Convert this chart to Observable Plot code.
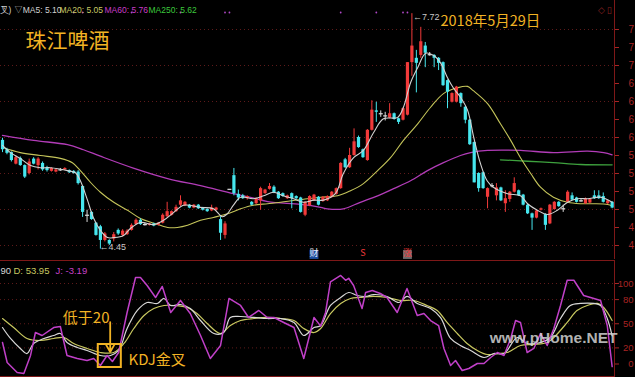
<!DOCTYPE html>
<html><head><meta charset="utf-8">
<script src="https://cdn.jsdelivr.net/npm/d3@7"></script>
<script src="https://cdn.jsdelivr.net/npm/@observablehq/plot@0.6"></script>
<style>
html,body{margin:0;padding:0;background:#000;width:635px;height:377px;overflow:hidden;}
#chart svg{display:block;}
</style></head><body><div id="chart"></div>
<script>
// ---- candle data (index 0..137) ----
const opens  = [5.96,5.83,5.79,5.63,5.71,5.61,5.50,5.70,5.61,5.64,5.58,5.53,5.52,5.55,5.55,5.54,5.53,5.52,5.32,4.92,4.96,4.81,4.76,4.57,4.57,4.59,4.71,4.64,4.65,4.71,4.79,4.85,4.79,4.78,4.80,4.78,4.81,4.90,4.92,4.97,5.06,5.05,5.06,5.02,5.06,5.02,5.00,4.98,4.99,4.86,4.64,5.28,5.47,5.21,5.19,5.15,5.10,5.08,5.12,5.22,5.28,5.31,5.24,5.22,5.15,5.22,5.18,5.16,4.92,5.05,5.12,5.17,5.11,5.12,5.17,5.21,5.29,5.69,5.58,5.75,6.00,5.83,5.68,6.10,6.37,6.33,6.30,6.27,6.33,6.26,6.24,6.31,7.04,7.10,7.14,7.27,7.15,7.14,7.10,7.04,6.79,6.49,6.49,6.61,6.42,6.24,5.93,5.50,5.51,5.17,5.33,5.19,5.30,5.08,5.14,5.24,5.26,5.20,5.06,4.94,4.88,4.99,4.93,4.80,5.00,5.10,5.01,5.10,5.19,5.16,5.12,5.08,5.09,5.19,5.19,5.18,5.08,5.10];
const highs  = [5.99,5.85,5.80,5.74,5.73,5.62,5.70,5.72,5.72,5.66,5.60,5.58,5.56,5.57,5.58,5.55,5.54,5.54,5.33,4.99,4.97,4.82,4.78,4.68,4.58,4.68,4.73,4.72,4.72,4.80,4.87,4.87,4.81,4.81,4.81,4.82,4.94,5.10,4.98,5.06,5.19,5.11,5.07,5.07,5.07,5.03,5.01,5.06,5.03,4.90,4.83,5.28,5.57,5.27,5.21,5.19,5.11,5.16,5.31,5.28,5.36,5.33,5.25,5.23,5.20,5.23,5.19,5.17,5.11,5.19,5.21,5.18,5.18,5.19,5.25,5.30,5.65,5.71,5.85,6.12,6.02,5.84,6.11,6.51,6.49,6.37,6.35,6.47,6.34,6.27,6.41,7.04,7.72,7.21,7.53,7.32,7.18,7.15,7.11,7.05,6.80,6.62,6.71,6.62,6.43,6.25,5.94,5.51,5.52,5.30,5.36,5.36,5.31,5.26,5.25,5.44,5.27,5.21,5.07,4.95,4.99,5.02,4.94,5.07,5.11,5.11,5.06,5.26,5.23,5.17,5.14,5.16,5.15,5.26,5.26,5.23,5.13,5.11];
const lows   = [5.79,5.76,5.66,5.62,5.60,5.43,5.48,5.62,5.55,5.53,5.52,5.52,5.51,5.53,5.54,5.50,5.49,5.34,4.89,4.82,4.85,4.63,4.45,4.55,4.50,4.55,4.64,4.62,4.64,4.70,4.78,4.78,4.77,4.77,4.76,4.77,4.80,4.88,4.91,4.96,5.04,5.04,5.01,5.01,5.00,4.98,4.96,4.97,4.98,4.57,4.59,5.28,5.19,5.12,5.14,5.13,5.05,5.07,4.99,5.21,5.27,5.22,5.14,5.17,5.14,5.01,5.14,4.95,4.90,5.04,5.11,5.05,5.10,5.11,5.16,5.20,5.28,5.57,5.57,5.74,5.85,5.71,5.67,6.09,6.21,6.28,6.23,6.26,6.24,6.18,6.23,6.30,6.85,6.62,7.10,6.97,7.13,6.97,6.93,6.71,6.40,6.48,6.48,6.42,6.19,5.89,5.37,5.24,5.28,5.01,5.30,5.12,5.11,4.96,5.10,5.23,5.18,5.05,4.93,4.71,4.87,4.98,4.71,4.79,4.99,5.03,4.96,5.09,5.12,5.09,5.10,5.07,5.08,5.14,5.14,5.09,5.07,5.01];
const closes = [5.83,5.78,5.68,5.72,5.61,5.45,5.66,5.63,5.70,5.55,5.54,5.57,5.55,5.55,5.57,5.51,5.50,5.36,4.96,4.92,4.86,4.64,4.57,4.66,4.52,4.65,4.66,4.70,4.70,4.78,4.85,4.79,4.79,4.80,4.77,4.81,4.92,4.97,4.97,5.03,5.12,5.10,5.02,5.06,5.01,4.99,4.97,5.02,5.02,4.67,4.80,5.28,5.22,5.16,5.15,5.18,5.06,5.15,5.29,5.27,5.32,5.23,5.15,5.18,5.19,5.15,5.15,4.96,5.10,5.18,5.20,5.06,5.17,5.18,5.24,5.29,5.64,5.58,5.75,5.94,5.86,5.72,6.10,6.38,6.35,6.33,6.30,6.33,6.25,6.21,6.40,7.04,7.27,7.03,7.33,7.17,7.15,7.10,7.03,6.72,6.63,6.61,6.70,6.47,6.24,5.90,5.37,5.29,5.29,5.29,5.33,5.30,5.12,5.15,5.24,5.36,5.19,5.06,4.94,4.88,4.98,5.01,4.78,5.06,5.10,5.04,5.01,5.24,5.13,5.10,5.12,5.15,5.14,5.15,5.15,5.10,5.12,5.02];

// ---- moving averages [candle index, price] ----
const ma5 = [[0,5.89],[1.8,5.79],[4,5.71],[6.3,5.61],[8.5,5.58],[10.8,5.58],[14.6,5.54],[16.4,5.51],[17.5,5.40],[19.1,5.13],[20.4,4.89],[22,4.71],[23.6,4.61],[25,4.61],[27.2,4.64],[28.8,4.74],[31,4.82],[34,4.79],[36.2,4.85],[38.5,4.96],[40.7,5.06],[44.5,5.03],[47.4,5.01],[49.4,4.90],[50.5,4.94],[51.9,5.06],[53.5,5.17],[56.4,5.15],[58.7,5.19],[60.9,5.24],[63.1,5.19],[65.4,5.15],[67.6,5.10],[70,5.13],[72.1,5.13],[74.8,5.22],[76.6,5.50],[78.9,5.72],[81.1,5.82],[83.4,6.07],[85.6,6.26],[88.8,6.28],[90.1,6.42],[91.7,6.76],[93.3,6.97],[95.1,7.17],[96.9,7.14],[98.4,7.04],[100,6.83],[101.4,6.68],[102.9,6.56],[104.5,6.38],[105.9,6.00],[107.4,5.64],[108.9,5.40],[110.3,5.31],[113.5,5.22],[116.4,5.19],[118,5.08],[120.2,4.99],[122.5,4.93],[124.7,4.99],[127,5.10],[129.2,5.15],[131.5,5.15],[134.4,5.17],[137,5.10]];
const ma20 = [[0,5.86],[4,5.79],[8.5,5.75],[13,5.71],[15.7,5.65],[17.5,5.54],[19.8,5.375],[22,5.24],[25,5.10],[28.1,4.99],[31,4.875],[34,4.81],[37.1,4.75],[39.3,4.75],[41.6,4.78],[44.5,4.85],[47.4,4.89],[50.6,4.94],[53.5,5.01],[56.4,5.06],[59.6,5.08],[62.5,5.10],[65.4,5.125],[68.5,5.15],[71.5,5.17],[75.3,5.19],[78.2,5.26],[81.1,5.36],[84.3,5.54],[87.2,5.72],[90.1,5.96],[93.3,6.19],[96.2,6.42],[99.1,6.61],[102.2,6.69],[104.5,6.71],[105.8,6.65],[109,6.47],[111.9,6.19],[114.2,5.96],[116.4,5.72],[118.7,5.50],[120.9,5.31],[123.8,5.17],[127,5.10],[129.9,5.08],[132.8,5.08],[136,5.07],[137,5.05]];
const ma60 = [[0,6.03],[7,5.96],[14.6,5.90],[18.2,5.83],[22,5.74],[29.4,5.575],[37.1,5.43],[44.5,5.33],[51.9,5.22],[55.7,5.17],[59.6,5.11],[67,5.07],[71.5,5.03],[73,5.01],[76.6,5.01],[80.4,5.10],[84.3,5.19],[87.9,5.29],[91.7,5.40],[95.5,5.54],[99.1,5.65],[102.9,5.75],[105.2,5.79],[109,5.82],[116.4,5.82],[123.8,5.79],[131.5,5.81],[135.1,5.79],[137,5.76]];
const ma250 = [[111.9,5.69],[118,5.67],[123.8,5.65],[129.9,5.625],[137,5.62]];

// ---- KDJ [candle index, value] ----
const kLine = [[0,45.3],[1.8,31.7],[4,19.3],[5.5,13],[7,25.5],[9.3,31.7],[11.5,35.4],[13,37.9],[14.5,26.7],[16.8,20.5],[19,16.8],[22,10.6],[24.3,10.6],[26.1,16.8],[28,44.1],[30.3,66.5],[32.5,76.4],[34.8,75.2],[36.3,81.4],[37.8,72.7],[40,73.9],[42.2,68.9],[44.5,54],[47.5,37.9],[49.7,39.1],[51.2,57.8],[53.5,59],[56.5,57.8],[59.5,56.5],[62.5,56.5],[65.5,51.6],[67.7,35.4],[70,45.3],[71.5,47.8],[73.7,72.7],[76,82.6],[77.8,88.8],[79.7,85.1],[81.6,83.9],[83.4,86.3],[86.4,83.9],[89.1,76.4],[90.9,83.9],[93.2,75.2],[96.2,68.9],[98.4,57.8],[100.7,31.7],[102.9,23],[105.2,16.8],[108.2,8.1],[110.4,13],[112.7,13],[115.7,32.9],[117.9,25.5],[120.9,26.7],[123.1,32.9],[125.4,56.5],[127.6,72.7],[129.9,75.2],[132.9,75.2],[134.4,72.7],[135.9,56.5],[137,34.9]];
const dLine = [[0,56.5],[2.5,45.3],[5.5,31.7],[8.5,29.2],[11.5,31.7],[13.8,32.9],[16,25.5],[19,19.3],[22,14.3],[25,14.3],[27.3,25.5],[29.5,44.1],[31.8,60.2],[34,68.9],[36.3,72.7],[38.5,72.7],[41.5,70.2],[43.7,62.7],[46,50.3],[49,37.9],[51.2,47.8],[53.5,54],[56.5,56.5],[59.5,57.8],[62.5,56.5],[65.5,54],[67.7,44.1],[70,39.1],[71.5,44.1],[73.7,62.7],[76,75.2],[78.2,81.4],[80.4,82.6],[83.4,83.9],[86.4,82.6],[89.4,78.9],[92.4,78.9],[95.4,72.7],[97.7,66.5],[99.9,51.6],[102.2,37.9],[104.4,25.5],[106.7,16.8],[108.9,11.8],[111.2,13],[113.4,14.3],[116.4,23],[119.4,24.2],[122.4,26.7],[123.9,32.9],[126.9,51.6],[129.1,66.5],[131.4,72.7],[133.7,75.2],[135.1,70.2],[137,53.95]];
const jLine = [[0,26.7],[1.05,1.9],[3.3,-10.6],[4.8,-11.8],[6.3,10.6],[7.4,39.1],[8.9,35.4],[11.5,45.3],[13,46.6],[14.5,10.6],[16.8,6.8],[19,4.3],[20.5,6.8],[22,-1.9],[23.5,10.6],[24.7,3.1],[26.1,14.3],[28,64],[29.9,107.5],[31,107.5],[32.5,97.5],[34.4,82.6],[35.9,96.3],[37.8,64],[40,78.9],[42.2,62.7],[44.5,35.4],[46.7,6.8],[49,23],[50.9,81.4],[53.5,72.7],[55.3,57.8],[57.6,66.5],[59.5,57.8],[61,57.8],[63.2,51.6],[65.5,45.3],[67.7,6.8],[70,57.8],[71.5,47],[72.6,64],[73.7,102],[76,110],[77.1,104],[77.8,106.5],[78.9,97.5],[80.8,68.9],[81.6,88.8],[83.1,91.3],[84.9,87.6],[86.4,82.6],[88.7,64],[90.9,93.8],[93.2,60.2],[94.7,62.7],[96.2,54],[98,47.8],[99.2,19.3],[100.7,-1.9],[101.8,4.3],[103.3,-8.1],[104.8,-5.6],[106.7,0.6],[108.2,0.6],[109.7,8.1],[111.2,14.3],[112.7,10.6],[114.2,31.7],[115.3,54],[116.4,51.6],[117.9,14.3],[119.4,19.3],[120.9,37.9],[122.4,23],[123.9,44.1],[125.4,72.7],[126.9,104],[128.4,104],[130.6,85.1],[132.9,81.4],[134.4,78.9],[135.9,47.8],[137,-3.19]];

// ---- ticks, labels, markers ----
const priceTicks = [4.5,4.75,5,5.25,5.5,5.75,6,6.25,6.5,6.75,7,7.25,7.5];
const priceGrid = [4.5,5,5.5,6,6.5,7,7.5];
const kdjTicks = [0,20,50,80,100];
const kdjGrid = [20,50,80,100];
const infoDots = [16,18,29,40,50,51,76,84,90,91];
const events = [{i:70,t:"财"},{i:81,t:"S"},{i:91,t:"涨"}];
const stockName = "珠江啤酒";
const dateLabel = "2018年5月29日";
const maHeader = ["叉) ▽MA5: 5.10","MA20: 5.05","MA60: 5.76","MA250: 5.62"];
const kdjHeader = ["90","D: 53.95","J: -3.19"];
const watermark = "www.pHome.NET";
const noteLow = "低于20";
const noteCross = "KDJ金叉";
const crossSpot = {i:24, v:10.6};      // KDJ golden cross (boxed)
const noteLowAt = {i:18.8, v:57};
const noteCrossAt = {i:28.3, v:4.3};
const arrowSeg = {i:24.2, v1:52, v2:15};

// ---- build ----
const RED="#f23a3a", CYAN="#46e6ee", DOJI="#dcdcdc", GOLD="#f2b324", AXIS="#a82424";
const C_MA5="#d2d2d2", C_MA20="#c4c45a", C_MA60="#b23cb8", C_MA250="#3ea23e";
const latin="'Liberation Sans', Arial, sans-serif", cjk="'Noto Sans CJK SC', sans-serif";
const candles = opens.map((o,i)=>({i,o,h:highs[i],l:lows[i],c:closes[i]}));
const col = d => d.c>d.o ? RED : d.c<d.o ? CYAN : DOJI;
const pts = a => a.map(([i,v])=>({i,v}));
const hiC = candles.reduce((a,b)=>b.h>a.h?b:a);
const loC = candles.reduce((a,b)=>b.l<a.l?b:a);
const X = {domain:[0,137], range:[2,611.65], axis:null};

const hdrPos = [-1,59,104,148], hdrCol = [C_MA5,"#c8c864","#c83cc8","#3cc83c"];
const main = Plot.plot({
  width:635, height:259, marginLeft:0, marginRight:21, marginTop:0, marginBottom:0,
  style:{background:"#000", color:AXIS, fontFamily:latin, overflow:"hidden"},
  x:X,
  y:{domain:[4.5,7.5], range:[245,29], axis:null},
  marks:[
    Plot.ruleY(priceGrid,{stroke:"#5e1a1a", strokeDasharray:"1,3"}),
    Plot.frame({stroke:"#7e1818", insetLeft:-3, insetTop:-3, insetBottom:-3}),
    // the panel is narrower than the labels: only the leading digit is visible
    Plot.axisY(priceTicks,{anchor:"right", tickSize:4, tickPadding:10, textAnchor:"start", fontSize:10, tickFormat:d=>String(Math.floor(d)), color:AXIS}),
    Plot.line(pts(ma60),{x:"i",y:"v",stroke:C_MA60,strokeWidth:1.3,curve:"catmull-rom"}),
    Plot.line(pts(ma250),{x:"i",y:"v",stroke:C_MA250,strokeWidth:1.3,curve:"catmull-rom"}),
    Plot.line(pts(ma20),{x:"i",y:"v",stroke:C_MA20,strokeWidth:1.1,curve:"catmull-rom"}),
    Plot.ruleX(candles,{x:"i",y1:"l",y2:"h",stroke:col,strokeWidth:1}),
    Plot.ruleX(candles,{x:"i",y1:"o",y2:"c",stroke:col,strokeWidth:3.2}),
    Plot.link(candles.filter(d=>d.o===d.c),{x1:d=>d.i-0.45,x2:d=>d.i+0.45,y1:"o",y2:"o",stroke:col,strokeWidth:1.2}),
    Plot.line(pts(ma5),{x:"i",y:"v",stroke:C_MA5,strokeWidth:1.1,curve:"catmull-rom"}),
    Plot.dot(infoDots,{x:d=>d,frameAnchor:"top",dy:12,r:0.9,fill:"#b048c8"}),
    Plot.text([hiC],{x:"i",y:"h",text:d=>"←"+d.h.toFixed(2),dx:1,dy:3,textAnchor:"start",fill:"#c8c8c8",fontSize:9}),
    Plot.text([loC],{x:"i",y:"l",text:d=>"←"+d.l.toFixed(2),dx:-1,dy:-2,textAnchor:"start",fill:"#c8c8c8",fontSize:9}),
    Plot.dot(events.filter(e=>e.t==="财"),{x:"i",frameAnchor:"bottom",dy:-5,symbol:"square",r:5,fill:"#1c4ea0"}),
    Plot.dot(events.filter(e=>e.t==="涨"),{x:"i",frameAnchor:"bottom",dy:-5,symbol:"square",r:5,fill:"#6a6a6a"}),
    Plot.text(events,{x:"i",text:"t",frameAnchor:"bottom",dy:-4,fill:e=>e.t==="财"?"#e8e8f8":RED,fontSize:9,fontFamily:cjk}),
    ...maHeader.map((t,k)=>Plot.text([t],{frameAnchor:"top-left",dx:hdrPos[k],dy:6.5,textAnchor:"start",fill:hdrCol[k],fontSize:8.5,fontFamily:latin})),
    Plot.text(["◇ ▯"],{frameAnchor:"top-right",dx:-2,dy:6,textAnchor:"end",fill:"#8a2020",fontSize:9}),
    Plot.text([stockName],{frameAnchor:"top-left",dx:25,dy:33,textAnchor:"start",fill:GOLD,fontSize:21,fontFamily:cjk}),
    Plot.text([dateLabel],{frameAnchor:"top-left",dx:440,dy:15,textAnchor:"start",fill:GOLD,fontSize:14.5,fontFamily:cjk})
  ]
});

const kPos=[0,13,55], kCol=["#d8d8d8","#c8c860","#c840c8"];
const kdj = Plot.plot({
  width:635, height:118, marginLeft:0, marginRight:21, marginTop:1, marginBottom:1,
  style:{background:"#000", color:AXIS, fontFamily:latin, overflow:"hidden"},
  x:X,
  y:{domain:[0,100], range:[104.5,24], axis:null},
  marks:[
    Plot.ruleY(kdjGrid,{stroke:"#5e1a1a", strokeDasharray:"1,3"}),
    Plot.frame({stroke:"#7e1818", insetLeft:-3}),
    Plot.axisY(kdjTicks,{anchor:"right", tickSize:4, tickPadding:15, textAnchor:"end", fontSize:9.5, color:AXIS}),
    Plot.line(pts(dLine),{x:"i",y:"v",stroke:"#c8c860",strokeWidth:1.2,curve:"catmull-rom"}),
    Plot.line(pts(kLine),{x:"i",y:"v",stroke:"#d8d8d8",strokeWidth:1.2,curve:"catmull-rom"}),
    Plot.line(pts(jLine),{x:"i",y:"v",stroke:"#c040c8",strokeWidth:1.5}),
    Plot.text([watermark],{frameAnchor:"bottom-right",dx:3,dy:-34,textAnchor:"end",fill:"#d4d4d4",fillOpacity:0.85,fontSize:15.5,fontWeight:"bold",fontFamily:latin}),
    ...kdjHeader.map((t,k)=>Plot.text([t],{frameAnchor:"top-left",dx:kPos[k],dy:6.5,textAnchor:"start",fill:kCol[k],fontSize:9.5,fontFamily:latin})),
    Plot.text([noteLowAt],{x:"i",y:"v",text:()=>noteLow,fill:GOLD,fontSize:15,fontFamily:cjk}),
    Plot.arrow([arrowSeg],{x1:"i",x2:"i",y1:"v1",y2:"v2",stroke:GOLD,strokeWidth:1.8,headLength:7}),
    Plot.dot([crossSpot],{x:"i",y:"v",symbol:"square",r:13,stroke:GOLD,strokeWidth:2,fill:"none"}),
    Plot.text([noteCrossAt],{x:"i",y:"v",text:()=>noteCross,textAnchor:"start",fill:GOLD,fontSize:15,fontFamily:cjk})
  ]
});
const el = document.getElementById("chart");
el.append(main, kdj);
</script></body></html>
